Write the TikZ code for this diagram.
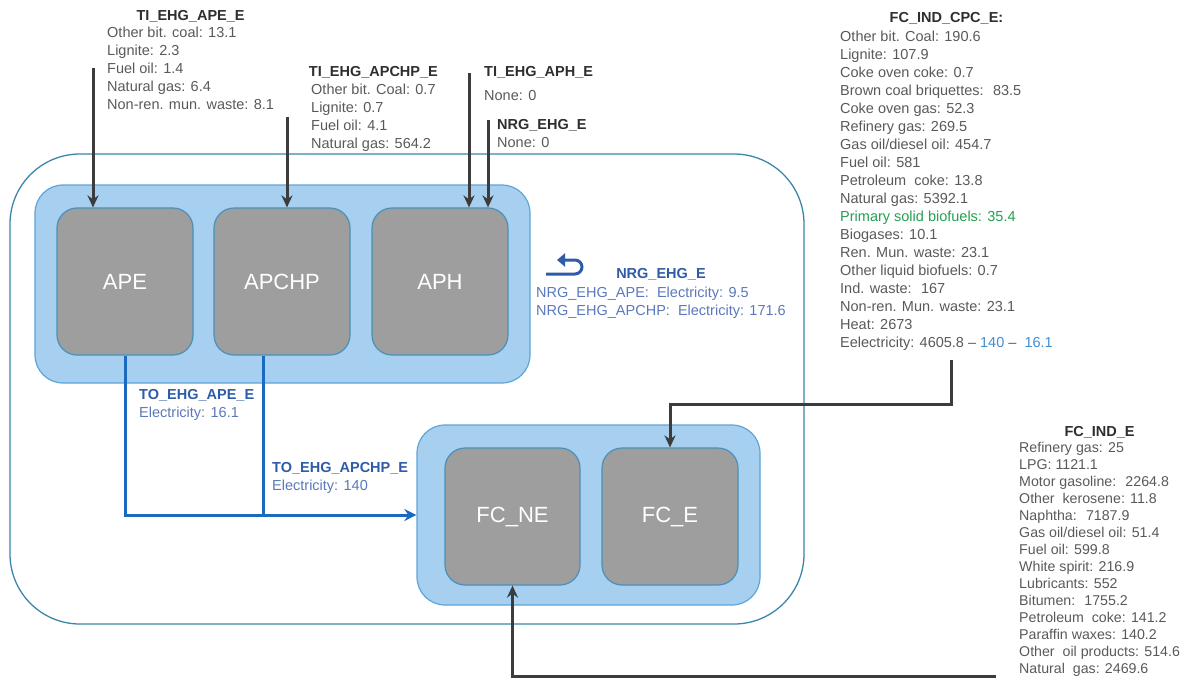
\documentclass[tikz,border=0pt]{standalone}
\usepackage{fontspec}
\setmainfont{Liberation Sans}
\usepackage{xcolor}
\usetikzlibrary{positioning, arrows.meta}

\definecolor{groupFill}{HTML}{A7CFEF}
\definecolor{groupLine}{HTML}{5DA5D8}
\definecolor{boxFill}{HTML}{9E9E9E}
\definecolor{boxLine}{HTML}{4A90B8}
\definecolor{outerLine}{HTML}{3B86A8}
\definecolor{feedGray}{HTML}{3C3C3C}
\definecolor{flowBlue}{HTML}{1A6BC0}
\definecolor{infoGray}{HTML}{595959}
\definecolor{titleGray}{HTML}{2E2E2E}
\definecolor{flowTitle}{HTML}{2F5BA8}
\definecolor{flowText}{HTML}{5A78BC}
\definecolor{lightBlue}{HTML}{3F8FD2}
\definecolor{bioGreen}{HTML}{22A050}

\tikzset{
    outerbox/.style={draw=outerLine, line width=1.3pt, rounded corners=70pt},
    groupbox/.style={draw=groupLine, fill=groupFill, line width=1.2pt, rounded corners=28pt},
    procbox/.style={draw=boxLine, fill=boxFill, line width=1.2pt, rounded corners=20pt,
        minimum width=136pt, minimum height=147pt, text=white, font=\fontsize{22}{26}\selectfont},
    % lists are placed by the baseline of their last line
    infolist/.style={align=left, anchor=base west, inner sep=0pt, text=infoGray,
        font=\fontsize{14.5}{18}\selectfont},
    infotitle/.style={anchor=base, inner sep=0pt, text=titleGray,
        font=\bfseries\fontsize{14.5}{18}\selectfont},
    flowlist/.style={infolist, text=flowText},
    flowtitle/.style={infotitle, text=flowTitle},
    feed/.style={draw=feedGray, line width=3pt, -{Stealth[length=12pt,width=11pt]}},
    flowline/.style={draw=flowBlue, line width=3pt},
    flow/.style={flowline, -{Stealth[length=12pt,width=12pt]}},
}

\begin{document}
\begin{tikzpicture}[x=1pt, y=-1pt]
    \useasboundingbox (0,0) rectangle (1191,688);

    % sector frame and the two groups of processes
    \node[outerbox, minimum width=794pt, minimum height=470pt] (ehg) at (407,389) {};
    \node[groupbox, minimum width=495pt, minimum height=198pt] (apGroup) at (282.5,284) {};
    \node[groupbox, minimum width=343pt, minimum height=180pt] (fcGroup) at (588.5,515) {};

    % processes
    \node[procbox] (ape) at (125,281.5) {APE};
    \node[procbox] (apchp) at (282,281.5) {APCHP};
    \node[procbox] (aph) at (440,281.5) {APH};
    \node[procbox, minimum width=135pt, minimum height=137pt] (fcne) at (512.5,516.5) {FC\_NE};
    \node[procbox, minimum width=136pt, minimum height=137pt] (fce) at (670,516.5) {FC\_E};

    % inputs from above
    \node[infolist] (apeList) at (107,109) {Other bit. coal: 13.1\\ Lignite: 2.3\\ Fuel oil: 1.4\\ Natural gas: 6.4\\ Non-ren. mun. waste: 8.1};
    \node[infotitle] (apeTitle) at (apeList.north |- 0,20) {TI\_EHG\_APE\_E};
    \node[infolist] (apchpList) at (311,148) {Other bit. Coal: 0.7\\ Lignite: 0.7\\ Fuel oil: 4.1\\ Natural gas: 564.2};
    \node[infotitle] (apchpTitle) at (apchpList.north |- 0,76) {TI\_EHG\_APCHP\_E};
    \node[infolist] (aphInfo) at (484,100) {{\color{titleGray}\bfseries TI\_EHG\_APH\_E}\\[6pt] None: 0};
    \node[infolist] (nrgInfo) at (497,147) {{\color{titleGray}\bfseries NRG\_EHG\_E}\\ None: 0};

    \coordinate (apeIn) at (93,68);
    \coordinate (apchpIn) at (287,117);
    \coordinate (aphIn) at (469,73);
    \coordinate (nrgIn) at (488,120);
    \draw[feed] (apeIn) -- (apeIn |- ape.north);
    \draw[feed] (apchpIn) -- (apchpIn |- apchp.north);
    \draw[feed] (aphIn) -- (aphIn |- aph.north);
    \draw[feed] (nrgIn) -- (nrgIn |- aph.north);

    % own use of electricity
    \draw[draw=flowTitle, line width=3pt, -{Triangle[length=8pt,width=13pt]}]
        (546,274) -- (575,274) arc[start angle=90, end angle=-90, radius=7] -- (557,260);
    \node[flowlist] (nrgFlowList) at (536,315) {NRG\_EHG\_APE:~ Electricity: 9.5\\ NRG\_EHG\_APCHP:~ Electricity: 171.6};
    \node[flowtitle] (nrgFlowTitle) at (nrgFlowList.north |- 0,278) {NRG\_EHG\_E};

    % electricity to final consumption
    \coordinate (apchpOut) at ([xshift=-19pt]apchp.south);
    \draw[flow] (ape.south) |- (fcGroup.west);
    \draw[flowline] (apchpOut) -- (apchpOut |- fcGroup.west);
    \node[flowlist] (apeOut) at (139,417) {{\color{flowTitle}\bfseries TO\_EHG\_APE\_E}\\ Electricity: 16.1};
    \node[flowlist] (apchpOutLabel) at (272,490) {{\color{flowTitle}\bfseries TO\_EHG\_APCHP\_E}\\ Electricity: 140};

    % final consumption (energy use)
    \node[infolist] (cpcList) at (840,347) {Other bit. Coal: 190.6\\ Lignite: 107.9\\ Coke oven coke: 0.7\\
        Brown coal briquettes:~ 83.5\\ Coke oven gas: 52.3\\ Refinery gas: 269.5\\ Gas oil/diesel oil: 454.7\\
        Fuel oil: 581\\ Petroleum~ coke: 13.8\\ Natural gas: 5392.1\\
        {\color{bioGreen}Primary solid biofuels: 35.4}\\ Biogases: 10.1\\ Ren. Mun. waste: 23.1\\
        Other liquid biofuels: 0.7\\ Ind. waste:~ 167\\ Non-ren. Mun. waste: 23.1\\ Heat: 2673\\
        Eelectricity: 4605.8 -- {\color{lightBlue}140} --~ {\color{lightBlue}16.1}};
    \node[infotitle] (cpcTitle) at (cpcList.north |- 0,23) {FC\_IND\_CPC\_E:};
    \coordinate (cpcOut) at (951,360);
    \draw[feed] (cpcOut) -- (cpcOut |- 0,404) -| (fce.north);

    % final consumption (non-energy use)
    \node[infolist, font=\fontsize{14.2}{17}\selectfont] (indList) at (1019,673) {Refinery gas: 25\\ LPG: 1121.1\\
        Motor gasoline:~ 2264.8\\ Other~ kerosene: 11.8\\ Naphtha:~ 7187.9\\ Gas oil/diesel oil: 51.4\\
        Fuel oil: 599.8\\ White spirit: 216.9\\ Lubricants: 552\\ Bitumen:~ 1755.2\\ Petroleum~ coke: 141.2\\
        Paraffin waxes: 140.2\\ Other~ oil products: 514.6\\ Natural~ gas: 2469.6};
    \node[infotitle] (indTitle) at (indList.north |- 0,436) {FC\_IND\_E};
    \coordinate (indOut) at (996,676);
    \draw[feed] (indOut) -| (fcne.south);
\end{tikzpicture}
\end{document}
